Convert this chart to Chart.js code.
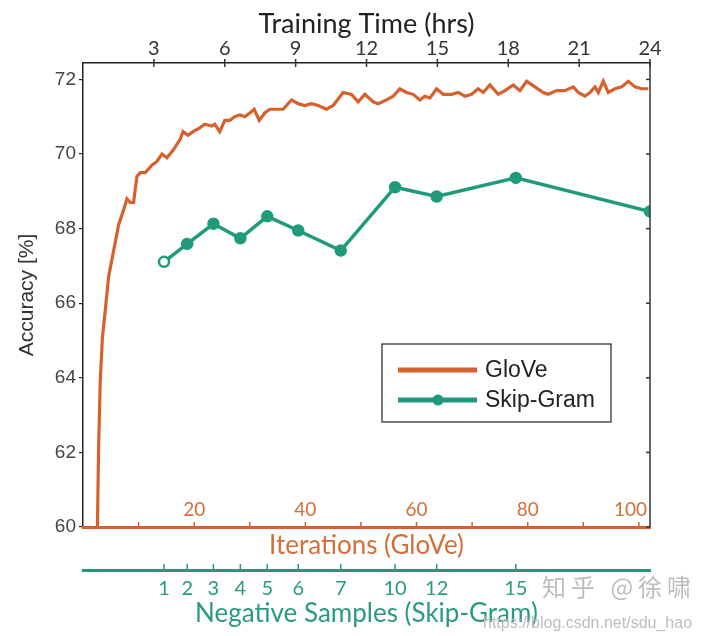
<!DOCTYPE html>
<html>
<head>
<meta charset="utf-8">
<script src="https://cdn.jsdelivr.net/npm/chart.js@4.4.1/dist/chart.umd.min.js"></script>
<style>
  body { margin: 0; background: #fff; }
  #wrap { position: relative; width: 702px; height: 636px; }
  .mark { position: absolute; color: #bdbdbd; white-space: nowrap; }
</style>
</head>
<body>
<div id="wrap">
  <canvas id="chart" width="702" height="636"></canvas>
  <div class="mark" style="left:542px; top:568px; font-size:24px; letter-spacing:5px; font-family:'Noto Sans CJK SC', sans-serif;">知乎 @徐啸</div>
  <div class="mark" style="left:483px; top:614px; font-size:16px; font-family:'Liberation Sans', Arial, sans-serif;">https://blog.csdn.net/sdu_hao</div>
</div>
<script>
// GloVe: accuracy vs iterations
const gloveIter = [2.6, 2.8, 3.1, 3.5, 4.0, 4.6, 5.5, 6.4, 7.3, 7.9,
  8.5, 9.1, 9.7, 10.3, 11.2, 12.4, 13.3, 14.2, 15.1, 16.2,
  17.5, 18.0, 18.9, 19.8, 21.0, 21.9, 23.2, 23.7, 24.6, 25.5,
  26.4, 27.3, 28.2, 29.1, 30.0, 30.8, 31.7, 32.7, 33.6, 34.8,
  36.0, 37.5, 38.7, 39.9, 41.1, 42.3, 43.8, 45.0, 46.8, 48.3,
  49.5, 50.7, 52.2, 53.1, 54.6, 55.8, 57.0, 58.2, 59.4, 60.6,
  61.5, 62.4, 63.6, 64.8, 66.3, 67.5, 68.7, 69.9, 71.1, 72.0,
  73.2, 74.7, 75.9, 77.4, 78.6, 79.8, 81.3, 82.8, 83.7, 85.2,
  86.7, 88.2, 89.1, 90.3, 91.2, 92.1, 92.7, 93.6, 94.5, 95.7,
  96.9, 98.1, 99.3, 100.5, 101.7];
const gloveAcc = [60.0, 62.1, 63.9, 65.1, 65.8, 66.7, 67.4, 68.1, 68.5, 68.8,
  68.7, 68.7, 69.4, 69.5, 69.5, 69.7, 69.8, 70.0, 69.9, 70.1,
  70.4, 70.6, 70.5, 70.6, 70.7, 70.8, 70.75, 70.8, 70.6, 70.9,
  70.9, 71.0, 71.05, 71.0, 71.1, 71.2, 70.9, 71.1, 71.2, 71.2,
  71.2, 71.45, 71.35, 71.3, 71.35, 71.3, 71.2, 71.3, 71.65, 71.6,
  71.4, 71.6, 71.4, 71.35, 71.45, 71.55, 71.75, 71.65, 71.6, 71.45,
  71.55, 71.5, 71.75, 71.6, 71.6, 71.65, 71.55, 71.6, 71.75, 71.65,
  71.85, 71.6, 71.7, 71.85, 71.7, 71.95, 71.8, 71.65, 71.6, 71.7,
  71.7, 71.8, 71.65, 71.55, 71.65, 71.8, 71.65, 71.95, 71.65, 71.75,
  71.8, 71.95, 71.8, 71.75, 71.75];

// Skip-Gram: accuracy vs training time (hrs)
const skipHours = [3.43, 4.41, 5.52, 6.66, 7.8, 9.11, 10.91, 13.21, 14.97, 18.32, 24];
const skipAcc = [67.11, 67.59, 68.13, 67.74, 68.33, 67.95, 67.41, 69.11, 68.86, 69.36, 68.46];

// tick labels
const negSampleLabels = ['1', '2', '3', '4', '5', '6', '7', '10', '12', '15'];
const iterLabels = [20, 40, 60, 80, 100];

const ORANGE = '#d6612c';
const ORANGE_TXT = '#d36f3a';
const TEAL = '#1f9b7c';
const TEAL_TXT = '#2a9a80';
const MYRIAD = 'Lato, "Open Sans", sans-serif';
const HELV = '"Liberation Sans", Arial, sans-serif';

function line(ctx, x1, y1, x2, y2) {
  ctx.beginPath(); ctx.moveTo(x1, y1); ctx.lineTo(x2, y2); ctx.stroke();
}

// frame, inward ticks, in-plot iteration labels and legend box
const frame = {
  id: 'frame',
  afterDraw(chart) {
    const { ctx, chartArea: a, scales } = chart;
    const y = scales.y, t = scales.time, it = scales.iter, ng = scales.neg;
    ctx.save();
    ctx.strokeStyle = '#333';
    ctx.lineWidth = 1.5;
    line(ctx, a.right, a.top, a.right, a.bottom);
    y.ticks.forEach(tk => {
      const py = y.getPixelForValue(tk.value);
      line(ctx, a.right - 4, py, a.right, py);
    });
    t.ticks.forEach(tk => {
      if (tk.value <= 0) return;
      const px = t.getPixelForValue(tk.value);
      line(ctx, px, a.top - 4, px, a.top + 4);
    });
    ctx.strokeStyle = ORANGE;
    it.ticks.forEach(tk => {
      if (tk.value <= 0) return;
      const px = it.getPixelForValue(tk.value);
      line(ctx, px, a.bottom - 5, px, a.bottom);
    });
    ctx.fillStyle = ORANGE_TXT;
    ctx.font = '19px ' + MYRIAD;
    ctx.textBaseline = 'middle';
    iterLabels.forEach(v => {
      const txt = String(v);
      const w = ctx.measureText(txt).width;
      const px = Math.min(it.getPixelForValue(v), a.right - 3 - w / 2);
      ctx.textAlign = 'center';
      ctx.fillText(txt, px, a.bottom - 17);
    });
    ctx.strokeStyle = TEAL;
    ng.ticks.forEach(tk => {
      const px = ng.getPixelForValue(tk.value);
      line(ctx, px, ng.top - 6, px, ng.top);
    });

    // legend
    const lx = 382, ly = 344, lw = 229, lh = 78;
    ctx.fillStyle = '#fff';
    ctx.fillRect(lx, ly, lw, lh);
    ctx.strokeStyle = '#333';
    ctx.lineWidth = 1.3;
    ctx.strokeRect(lx, ly, lw, lh);
    ctx.font = '23px ' + HELV;
    ctx.textAlign = 'left';
    chart.data.datasets.forEach((ds, i) => {
      const yy = ly + 26 + i * 30;
      ctx.strokeStyle = ds.borderColor;
      ctx.lineWidth = 5;
      line(ctx, lx + 16, yy, lx + 95, yy);
      if (ds.pointRadius) {
        ctx.fillStyle = ds.borderColor;
        ctx.beginPath(); ctx.arc(lx + 56, yy, 5.5, 0, Math.PI * 2); ctx.fill();
      }
      ctx.fillStyle = '#222';
      ctx.fillText(ds.label, lx + 103, yy + 1);
    });
    ctx.restore();
  }
};

new Chart(document.getElementById('chart'), {
  type: 'line',
  data: {
    datasets: [
      {
        label: 'GloVe',
        data: gloveIter.map((x, i) => ({ x, y: gloveAcc[i] })),
        xAxisID: 'iter',
        yAxisID: 'y',
        borderColor: ORANGE,
        borderWidth: 3.2,
        pointRadius: 0,
        tension: 0
      },
      {
        label: 'Skip-Gram',
        data: skipHours.map((x, i) => ({ x, y: skipAcc[i] })),
        xAxisID: 'time',
        yAxisID: 'y',
        borderColor: TEAL,
        borderWidth: 3.5,
        pointRadius: 5,
        pointBorderWidth: 2.5,
        pointBorderColor: TEAL,
        pointBackgroundColor: c => (c.dataIndex === 0 ? '#fff' : TEAL),
        tension: 0
      }
    ]
  },
  options: {
    responsive: false,
    animation: false,
    layout: { padding: { left: 0, top: 0, right: 52, bottom: 0 } },
    plugins: { legend: { display: false }, tooltip: { enabled: false } },
    scales: {
      y: {
        type: 'linear',
        position: 'left',
        min: 60,
        max: 72.44,
        ticks: { stepSize: 2, includeBounds: false, padding: 3, color: '#444', font: { family: HELV, size: 19 } },
        grid: { drawOnChartArea: false, drawTicks: true, tickLength: 4, color: '#222', lineWidth: 1.2 },
        border: { color: '#222', width: 1.5 },
        title: { display: true, text: 'Accuracy [%]', color: '#333', font: { family: HELV, size: 21 }, padding: { top: 15, bottom: 0 } },
        afterFit: s => { s.width = 83; }
      },
      time: {
        type: 'linear',
        position: 'top',
        min: 0,
        max: 24,
        ticks: { stepSize: 3, padding: 2, color: '#333', font: { family: MYRIAD, size: 20 }, autoSkip: false, maxRotation: 0,
          callback: v => (v > 0 ? String(v) : '') },
        grid: { display: false, drawTicks: false },
        border: { color: '#222', width: 1.5 },
        title: { display: true, text: 'Training Time (hrs)', color: '#222', font: { family: MYRIAD, size: 27 }, padding: { top: 8, bottom: 0 } },
        afterFit: s => { s.height = 63; }
      },
      iter: {
        type: 'linear',
        position: 'bottom',
        weight: 1,
        min: 0,
        max: 102,
        ticks: { stepSize: 10, includeBounds: false, display: false },
        grid: { display: false, drawTicks: false },
        border: { color: ORANGE, width: 3 },
        title: { display: true, text: 'Iterations (GloVe)', color: ORANGE_TXT, font: { family: MYRIAD, size: 26 }, padding: { top: 0, bottom: 9 } },
        afterFit: s => { s.height = 43; }
      },
      neg: {
        type: 'linear',
        position: 'bottom',
        weight: 2,
        min: 0,
        max: 24,
        afterBuildTicks: s => {
          s.ticks = negSampleLabels.map((_, i) => ({ value: skipHours[i] }));
        },
        ticks: { padding: 7, color: TEAL_TXT, font: { family: MYRIAD, size: 20 }, autoSkip: false, maxRotation: 0,
          callback: (v, i) => negSampleLabels[i] },
        grid: { display: false, drawTicks: false },
        border: { color: TEAL, width: 3 },
        title: { display: true, text: 'Negative Samples (Skip-Gram)', color: TEAL_TXT, font: { family: MYRIAD, size: 26 }, padding: { top: 0, bottom: 7 } },
        afterFit: s => { s.height = 66; }
      }
    }
  },
  plugins: [frame]
});
</script>
</body>
</html>
